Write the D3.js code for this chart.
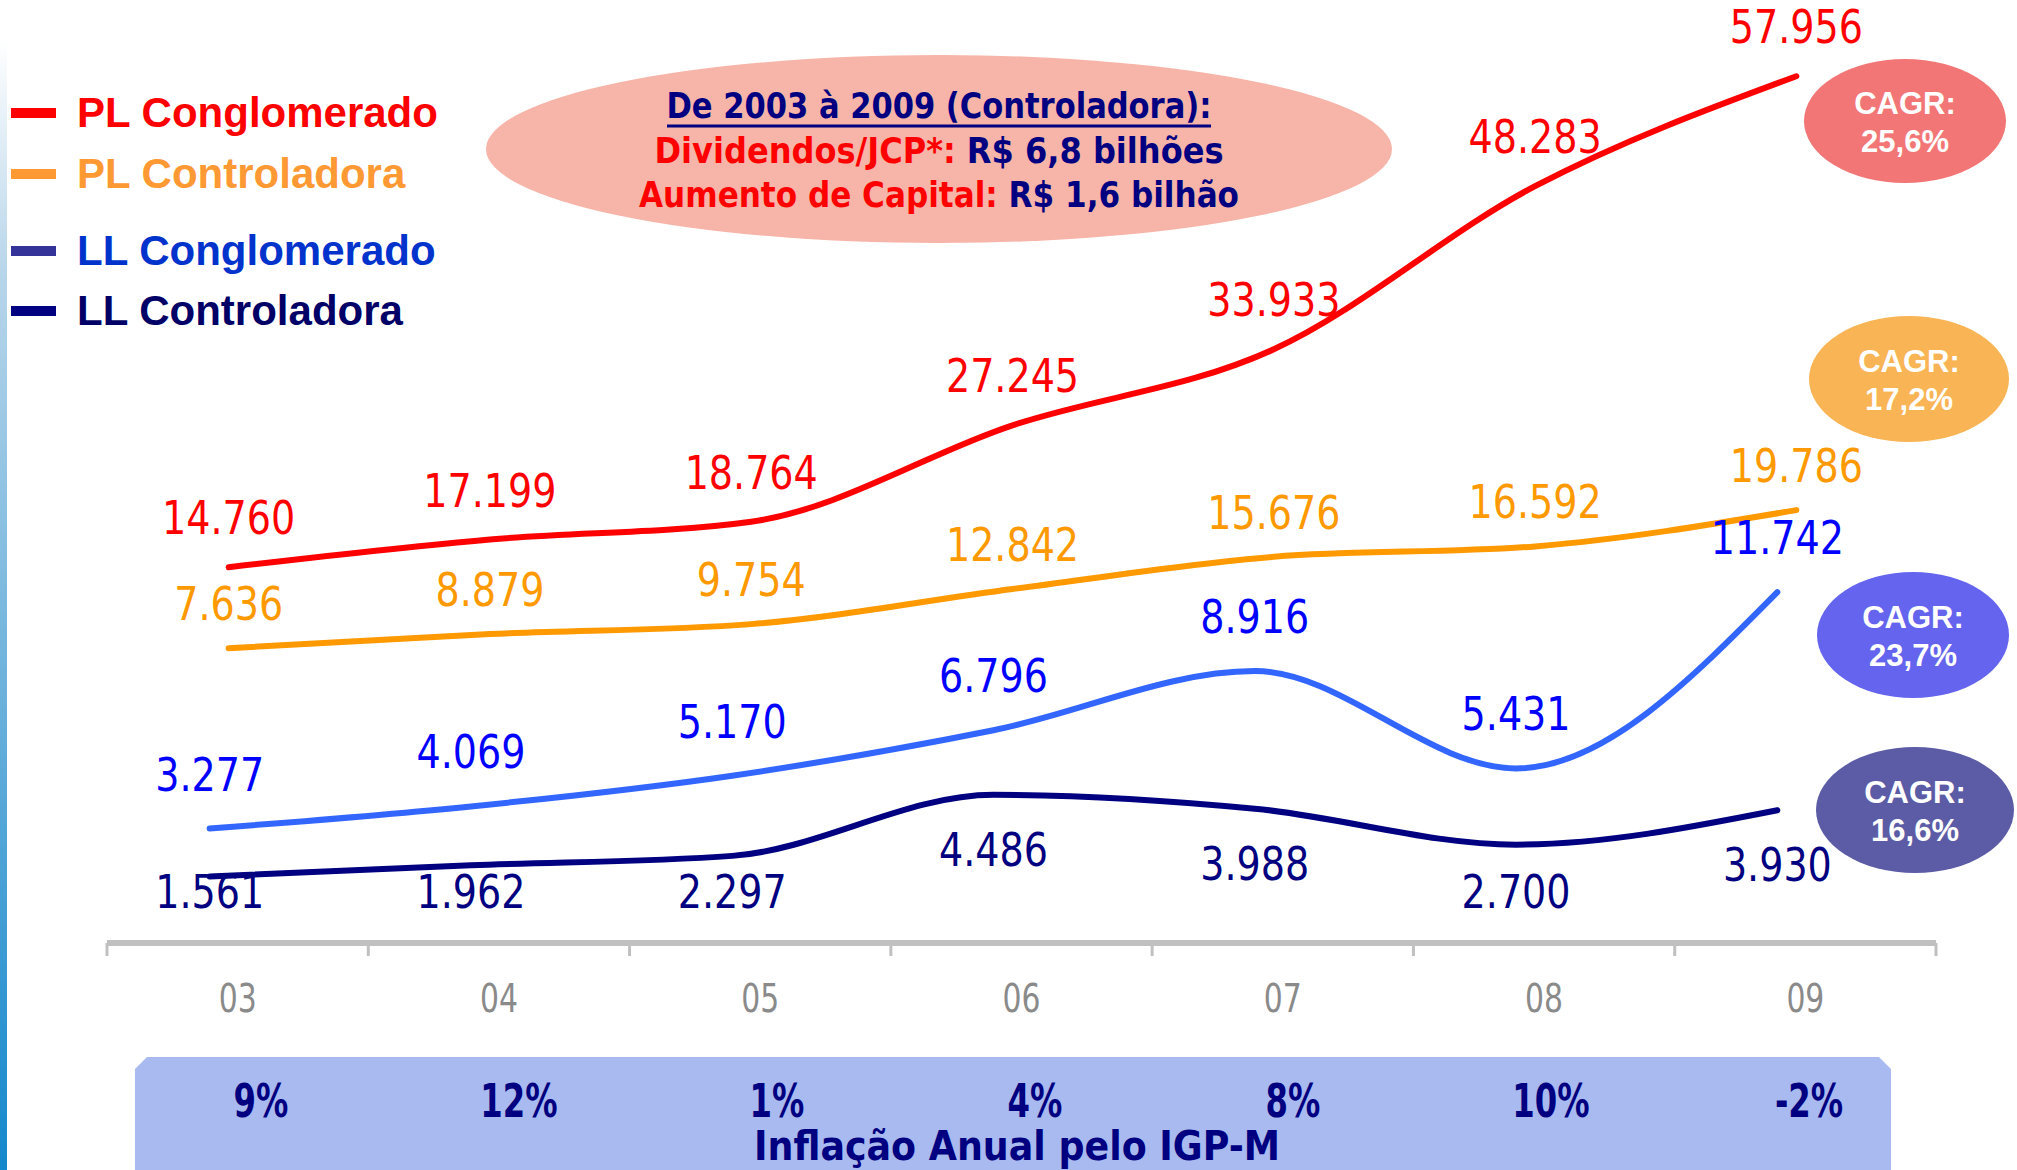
<!DOCTYPE html>
<html>
<head>
<meta charset="utf-8">
<script src="https://cdn.jsdelivr.net/npm/d3@7"></script>
<style>
  body { margin: 0; background: #fff; }
  svg { display: block; }
</style>
</head>
<body>
<script>
// values (R$ milhoes)
var years = ["03", "04", "05", "06", "07", "08", "09"];
var plConglomerado = [14760, 17199, 18764, 27245, 33933, 48283, 57956];
var plControladora = [7636, 8879, 9754, 12842, 15676, 16592, 19786];
var llConglomerado = [3277, 4069, 5170, 6796, 8916, 5431, 11742];
var llControladora = [1561, 1962, 2297, 4486, 3988, 2700, 3930];
var igpm = ["9%", "12%", "1%", "4%", "8%", "10%", "-2%"];
var cagr = ["25,6%", "17,2%", "23,7%", "16,6%"];
var legendNames = ["PL Conglomerado", "PL Controladora", "LL Conglomerado", "LL Controladora"];

var W = 2017, H = 1170;
var narrow = "'Liberation Sans Narrow', 'DejaVu Sans Condensed', 'Arial Narrow', sans-serif";
var bold = "'Liberation Sans', Arial, sans-serif";

var br = d3.formatLocale({decimal: ",", thousands: ".", grouping: [3], currency: ["R$ ", ""]});
var fmt = br.format(",d");

// squeeze a text horizontally, the slide uses a narrow face
function squeeze(sel, k) {
  sel.each(function () {
    var w = this.getComputedTextLength();
    d3.select(this).attr("textLength", w * k).attr("lengthAdjust", "spacingAndGlyphs");
  });
}

var svg = d3.select("body").append("svg")
    .attr("width", W)
    .attr("height", H);

// left decorative strip
var defs = svg.append("defs");
var grad = defs.append("linearGradient").attr("id", "strip")
    .attr("x1", 0).attr("y1", 0).attr("x2", 0).attr("y2", 1);
grad.append("stop").attr("offset", "0%").attr("stop-color", "#ffffff");
grad.append("stop").attr("offset", "20%").attr("stop-color", "#b9d6ea");
grad.append("stop").attr("offset", "100%").attr("stop-color", "#1488cc");
svg.append("rect")
    .attr("x", 0).attr("y", 40)
    .attr("width", 7).attr("height", H - 40)
    .attr("fill", "url(#strip)");

// scales
var x = d3.scaleBand().domain(years).range([107, 1936]);
var xBox = d3.scaleBand().domain(years).range([132, 1938]);
var yPL = d3.scaleLinear().domain([0, 60000]).range([735, 53]);
var yLL = d3.scaleLinear().domain([0, 12000]).range([920, 585]);

var series = [
  {name: legendNames[0], values: plConglomerado, y: yPL, line: "#ff0000", text: "#ff0000", key: "#ff0000", dx: -9,
   label: function (p) { return p - 33 }},
  {name: legendNames[1], values: plControladora, y: yPL, line: "#ff9900", text: "#ff9900", key: "#ff9933", dx: -9,
   label: function (p) { return p - 28 }},
  {name: legendNames[2], values: llConglomerado, y: yLL, line: "#3366ff", text: "#0000ff", key: "#333399", dx: -28,
   label: function (p) { return p - 38 }},
  {name: legendNames[3], values: llControladora, y: yLL, line: "#000080", text: "#000080", key: "#000080", dx: -28,
   label: function (p) { return Math.min(p + 71, 908) }}
];
var legendText = ["#ff0000", "#ff9933", "#0033cc", "#000066"];

// axis
var axisY = 943;
svg.append("line")
    .attr("x1", x.range()[0]).attr("x2", x.range()[1])
    .attr("y1", axisY).attr("y2", axisY)
    .attr("stroke", "#c0c0c0").attr("stroke-width", 6);
svg.append("g").selectAll("line")
    .data(years.concat(["end"]))
    .enter().append("line")
    .attr("x1", function (d, i) { return x.range()[0] + i * x.step() })
    .attr("x2", function (d, i) { return x.range()[0] + i * x.step() })
    .attr("y1", axisY).attr("y2", axisY + 13)
    .attr("stroke", "#c0c0c0").attr("stroke-width", 3);
svg.append("g").selectAll("text")
    .data(years)
    .enter().append("text")
    .attr("x", function (d) { return x(d) + x.bandwidth() / 2 })
    .attr("y", 1012)
    .attr("text-anchor", "middle")
    .style("font-family", narrow)
    .style("font-size", "39px")
    .attr("fill", "#8a8a8a")
    .text(function (d) { return d })
    .call(squeeze, 0.85);

// lines
var line = d3.line().curve(d3.curveMonotoneX);
series.forEach(function (s) {
  var pts = s.values.map(function (v, i) {
    return [x(years[i]) + x.bandwidth() / 2 + s.dx, s.y(v)];
  });
  svg.append("path")
      .attr("d", line(pts))
      .attr("fill", "none")
      .attr("stroke", s.line)
      .attr("stroke-width", 6)
      .attr("stroke-linecap", "round");
  svg.append("g").selectAll("text")
      .data(s.values)
      .enter().append("text")
      .attr("x", function (d, i) { return pts[i][0] })
      .attr("y", function (d, i) { return s.label(pts[i][1]) })
      .attr("text-anchor", "middle")
      .style("font-family", narrow)
      .style("font-size", "47px")
      .attr("fill", s.text)
      .text(function (d) { return fmt(d) })
      .call(squeeze, 0.9);
});

// legend
var legend = svg.append("g");
var legendY = [113, 174, 251, 311];
series.forEach(function (s, i) {
  legend.append("rect")
      .attr("x", 11).attr("y", legendY[i] - 5)
      .attr("width", 45).attr("height", 10)
      .attr("fill", s.key);
  legend.append("text")
      .attr("x", 77).attr("y", legendY[i] + 14)
      .style("font-family", bold)
      .style("font-weight", "bold")
      .style("font-size", "42px")
      .attr("fill", legendText[i])
      .text(s.name);
});

// top annotation ellipse
svg.append("ellipse")
    .attr("cx", 939).attr("cy", 149)
    .attr("rx", 453).attr("ry", 94)
    .attr("fill", "#f7b4a8");
var note = svg.append("g")
    .style("font-family", narrow)
    .style("font-weight", "bold")
    .style("font-size", "35px")
    .attr("text-anchor", "middle");
note.append("text")
    .attr("x", 939).attr("y", 118)
    .attr("textLength", 545).attr("lengthAdjust", "spacingAndGlyphs")
    .attr("fill", "#000080")
    .text("De 2003 à 2009 (Controladora):");
note.append("line")
    .attr("x1", 939 - 272).attr("x2", 939 + 272)
    .attr("y1", 126).attr("y2", 126)
    .attr("stroke", "#000080").attr("stroke-width", 3);
var l2 = note.append("text")
    .attr("x", 939).attr("y", 163)
    .attr("textLength", 569).attr("lengthAdjust", "spacingAndGlyphs");
l2.append("tspan").attr("fill", "#ff0000").text("Dividendos/JCP*: ");
l2.append("tspan").attr("fill", "#000080").text("R$ 6,8 bilhões");
var l3 = note.append("text")
    .attr("x", 939).attr("y", 207)
    .attr("textLength", 600).attr("lengthAdjust", "spacingAndGlyphs");
l3.append("tspan").attr("fill", "#ff0000").text("Aumento de Capital: ");
l3.append("tspan").attr("fill", "#000080").text("R$ 1,6 bilhão");

// CAGR bubbles
var bubbles = [
  {cx: 1905, cy: 121, rx: 101, ry: 62, fill: "#f27676"},
  {cx: 1909, cy: 379, rx: 100, ry: 63, fill: "#f9b455"},
  {cx: 1913, cy: 635, rx: 96, ry: 63, fill: "#6464ee"},
  {cx: 1915, cy: 810, rx: 99, ry: 63, fill: "#5c5ca6"}
];
var bg = svg.append("g").selectAll("g")
    .data(bubbles)
    .enter().append("g");
bg.append("ellipse")
    .attr("cx", function (d) { return d.cx })
    .attr("cy", function (d) { return d.cy })
    .attr("rx", function (d) { return d.rx })
    .attr("ry", function (d) { return d.ry })
    .attr("fill", function (d) { return d.fill });
bg.append("text")
    .attr("x", function (d) { return d.cx })
    .attr("y", function (d) { return d.cy - 7 })
    .attr("text-anchor", "middle")
    .style("font-family", bold).style("font-weight", "bold").style("font-size", "31px")
    .attr("fill", "#ffffff")
    .text("CAGR:");
bg.append("text")
    .attr("x", function (d) { return d.cx })
    .attr("y", function (d) { return d.cy + 31 })
    .attr("text-anchor", "middle")
    .style("font-family", bold).style("font-weight", "bold").style("font-size", "31px")
    .attr("fill", "#ffffff")
    .text(function (d, i) { return cagr[i] });

// IGP-M box
var bx0 = 135, bx1 = 1891, by0 = 1057, c = 12;
svg.append("path")
    .attr("d", "M" + (bx0 + c) + "," + by0 + "L" + (bx1 - c) + "," + by0 +
               "L" + bx1 + "," + (by0 + c) + "L" + bx1 + "," + (H + 10) +
               "L" + bx0 + "," + (H + 10) + "L" + bx0 + "," + (by0 + c) + "Z")
    .attr("fill", "#a9baf0");
svg.append("g").selectAll("text")
    .data(igpm)
    .enter().append("text")
    .attr("x", function (d, i) { return xBox(years[i]) + xBox.bandwidth() / 2 })
    .attr("y", 1117)
    .attr("text-anchor", "middle")
    .style("font-family", narrow).style("font-weight", "bold").style("font-size", "46px")
    .attr("fill", "#000080")
    .text(function (d) { return d })
    .call(squeeze, 0.78);
svg.append("text")
    .attr("x", 1017).attr("y", 1160)
    .attr("text-anchor", "middle")
    .attr("textLength", 526).attr("lengthAdjust", "spacingAndGlyphs")
    .style("font-family", narrow).style("font-weight", "bold").style("font-size", "40px")
    .attr("fill", "#000080")
    .text("Inflação Anual pelo IGP-M");
</script>
</body>
</html>
